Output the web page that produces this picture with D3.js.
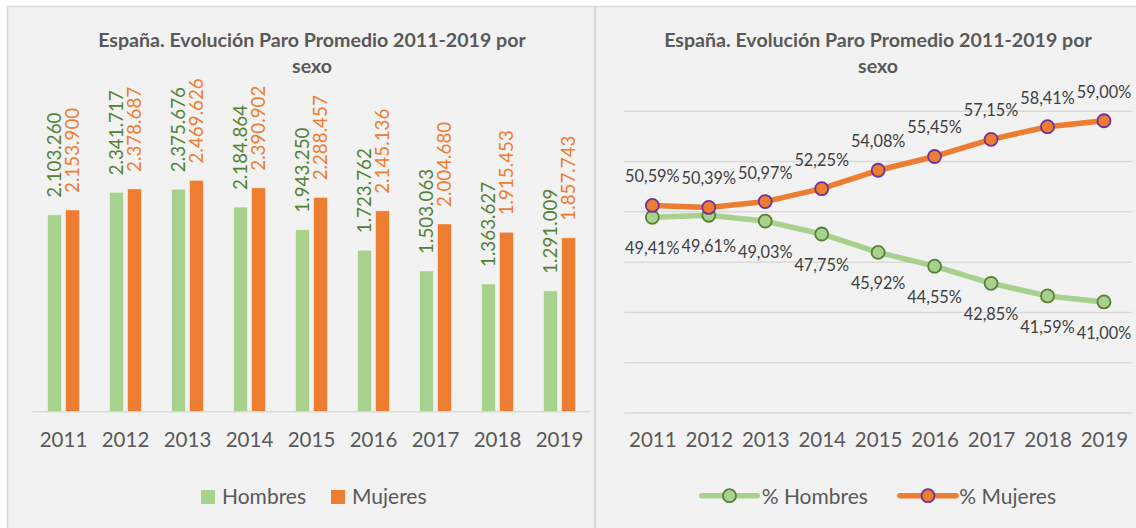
<!DOCTYPE html>
<html>
<head>
<meta charset="utf-8">
<script src="https://cdn.jsdelivr.net/npm/d3@7"></script>
<style>
  html, body { margin: 0; padding: 0; background: #ffffff; }
  svg { display: block; font-family: Lato, "Open Sans", sans-serif; }
</style>
</head>
<body>
<svg id="chart" width="1136" height="528"></svg>
<script>
// ---- Data ----
const years = ["2011","2012","2013","2014","2015","2016","2017","2018","2019"];
const hombres = [2103260, 2341717, 2375676, 2184864, 1943250, 1723762, 1503063, 1363627, 1291009];
const mujeres = [2153900, 2378687, 2469626, 2390902, 2288457, 2145136, 2004680, 1915453, 1857743];
const pctHombres = [49.41, 49.61, 49.03, 47.75, 45.92, 44.55, 42.85, 41.59, 41.00];
const pctMujeres = [50.59, 50.39, 50.97, 52.25, 54.08, 55.45, 57.15, 58.41, 59.00];
const seriesNames = ["Hombres", "Mujeres"];
const lineNames = ["% Hombres", "% Mujeres"];
const titleLines = ["España. Evolución Paro Promedio 2011-2019 por", "sexo"];

// ---- Styles ----
const GREEN = "#A9D18E", GREEN_DARK = "#548235", ORANGE = "#ED7D31", PURPLE = "#7030A0";
const BG = "#f2f2f2", GRID = "#d9d9d9", TXT = "#595959", LBL = "#404040";

const svg = d3.select("#chart");
svg.append("rect").attr("width", 1136).attr("height", 528).attr("fill", "#ffffff");

// panels
svg.append("rect").attr("x", 7.5).attr("y", 6.5).attr("width", 587).attr("height", 540)
  .attr("fill", BG).attr("stroke", GRID).attr("stroke-width", 1.5);
svg.append("rect").attr("x", 595.5).attr("y", 6.5).attr("width", 560).attr("height", 540)
  .attr("fill", BG).attr("stroke", GRID).attr("stroke-width", 1.5);

function title(cx) {
  const t = svg.append("text").attr("text-anchor", "middle").attr("fill", TXT)
    .attr("font-weight", "bold").attr("font-size", 19.6);
  titleLines.forEach((s, i) => t.append("tspan").attr("x", cx).attr("y", 47 + i * 26).text(s));
}
title(312);
title(878);

// ================= LEFT: grouped bars =================
const x0 = d3.scaleBand().domain(years).range([32.5, 590.5]).paddingInner(0.4839).paddingOuter(0.24195);
const x1 = d3.scaleBand().domain(seriesNames).range([0, x0.bandwidth()]).paddingInner(0.222);
const yB = d3.scaleLinear().domain([0, 3000000]).range([411.7, 130.7]);

const barData = years.map((y, i) => ({ year: y, vals: [
  { s: "Hombres", v: hombres[i], fill: GREEN, lab: GREEN_DARK },
  { s: "Mujeres", v: mujeres[i], fill: ORANGE, lab: ORANGE }
]}));

const fmt = v => d3.format(",")(v).replace(/,/g, ".");

const g = svg.append("g");
const groups = g.selectAll("g.grp").data(barData).join("g")
  .attr("transform", d => `translate(${x0(d.year)},0)`);
groups.selectAll("rect").data(d => d.vals).join("rect")
  .attr("x", d => x1(d.s)).attr("width", x1.bandwidth())
  .attr("y", d => yB(d.v)).attr("height", d => yB(0) - yB(d.v))
  .attr("fill", d => d.fill).attr("stroke", "#ffffff").attr("stroke-opacity", 0.45).attr("stroke-width", 1);
groups.selectAll("text").data(d => d.vals).join("text")
  .attr("transform", d => `translate(${x1(d.s) + x1.bandwidth() / 2},${yB(d.v) - 17}) rotate(-90)`)
  .attr("dy", "0.36em").attr("text-anchor", "start")
  .attr("font-size", 18.8).attr("fill", d => d.lab).text(d => fmt(d.v));

// baseline
svg.append("line").attr("x1", 32.5).attr("x2", 590.5).attr("y1", yB(0)).attr("y2", yB(0))
  .attr("stroke", GRID).attr("stroke-width", 1.5);

// x axis labels
const axB = d3.axisBottom(x0).tickSize(0).tickPadding(0);
const gaxB = svg.append("g").attr("transform", `translate(0,447)`).call(axB);
gaxB.select(".domain").remove();
gaxB.selectAll("text").attr("font-size", 20.5).attr("fill", TXT).attr("dy", 0)
  .attr("font-family", "Lato, sans-serif");

// legend left
const legL = [{ n: "Hombres", c: GREEN, x: 201 }, { n: "Mujeres", c: ORANGE, x: 331 }];
legL.forEach(d => {
  svg.append("rect").attr("x", d.x).attr("y", 490).attr("width", 14).attr("height", 14).attr("fill", d.c);
  svg.append("text").attr("x", d.x + 21).attr("y", 503.5).attr("font-size", 21).attr("fill", TXT).text(d.n);
});

// ================= RIGHT: lines =================
const xP = d3.scalePoint().domain(years).range([624.1, 1132.2]).padding(0.5);
const yP = d3.scaleLinear().domain([30, 60]).range([412.6, 110.7]);

// gridlines
const gridG = svg.append("g").attr("transform", "translate(624.3,0)")
  .call(d3.axisLeft(yP).tickValues([30, 35, 40, 45, 50, 55, 60]).tickSize(-508).tickFormat(""));
gridG.select(".domain").remove();
gridG.selectAll("line").attr("stroke", GRID).attr("stroke-width", 1.5);

// x axis labels right
const axP = d3.axisBottom(xP).tickSize(0).tickPadding(0);
const gaxP = svg.append("g").attr("transform", `translate(0,447)`).call(axP);
gaxP.select(".domain").remove();
gaxP.selectAll("text").attr("font-size", 20.5).attr("fill", TXT).attr("dy", 0)
  .attr("font-family", "Lato, sans-serif");

const lineSeries = [
  { name: "% Hombres", vals: pctHombres, stroke: GREEN, mfill: GREEN, mstroke: GREEN_DARK, dyLab: 37 },
  { name: "% Mujeres", vals: pctMujeres, stroke: ORANGE, mfill: ORANGE, mstroke: PURPLE, dyLab: -23 }
];
const lineGen = d3.line().x((d, i) => xP(years[i])).y(d => yP(d));

lineSeries.forEach(s => {
  svg.append("path").attr("d", lineGen(s.vals)).attr("fill", "none")
    .attr("stroke", s.stroke).attr("stroke-width", 5.5).attr("stroke-linejoin", "round").attr("stroke-linecap", "round");
});
lineSeries.forEach(s => {
  svg.append("g").selectAll("circle").data(s.vals).join("circle")
    .attr("cx", (d, i) => xP(years[i])).attr("cy", d => yP(d)).attr("r", 6.5)
    .attr("fill", s.mfill).attr("stroke", s.mstroke).attr("stroke-width", 1.8);
  svg.append("g").selectAll("text").data(s.vals).join("text")
    .attr("x", (d, i) => xP(years[i])).attr("y", d => yP(d) + s.dyLab)
    .attr("text-anchor", "middle").attr("font-size", 16.3).attr("fill", LBL)
    .text(d => d.toFixed(2).replace(".", ",") + "%");
});

// legend right
const legR = [
  { s: lineSeries[0], x1: 701.7, x2: 757.3, tx: 761.7 },
  { s: lineSeries[1], x1: 900, x2: 956, tx: 959.3 }
];
legR.forEach(d => {
  svg.append("line").attr("x1", d.x1).attr("x2", d.x2).attr("y1", 495.7).attr("y2", 495.7)
    .attr("stroke", d.s.stroke).attr("stroke-width", 5.5).attr("stroke-linecap", "round");
  svg.append("circle").attr("cx", (d.x1 + d.x2) / 2).attr("cy", 495.7).attr("r", 6.5)
    .attr("fill", d.s.mfill).attr("stroke", d.s.mstroke).attr("stroke-width", 1.8);
  svg.append("text").attr("x", d.tx).attr("y", 503.5).attr("font-size", 21).attr("fill", TXT).text(d.s.name);
});
</script>
</body>
</html>
